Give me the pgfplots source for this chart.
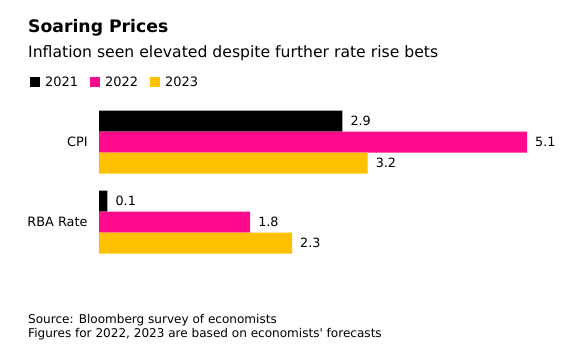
\documentclass[border=0pt]{standalone}
\usepackage{pgfplots}
\pgfplotsset{compat=1.18}
\usepackage{fontspec}
\setmainfont{DejaVu Sans}
\newfontfamily\nolig{DejaVu Sans}
\definecolor{c2021}{HTML}{000000}
\definecolor{c2022}{HTML}{FF0A8C}
\definecolor{c2023}{HTML}{FFC000}
\begin{document}
\begin{tikzpicture}
\path[use as bounding box] (0,0) rectangle (567bp,-354bp);
\node[anchor=base west, inner sep=0, font=\bfseries\fontsize{17.3}{20}\selectfont] at (28bp,-32bp) {Soaring Prices};
\node[anchor=base west, inner sep=0, font=\fontsize{15.7}{18}\selectfont] at (28bp,-57bp) {Inflation seen elevated despite further rate rise bets};
\node[anchor=base west, inner sep=0, font=\fontsize{12.1}{14}\selectfont] at (28bp,-323bp) {Source: Bloomberg survey of economists};
\node[anchor=base west, inner sep=0, font=\nolig\fontsize{12.1}{14}\selectfont] at (28bp,-337bp) {Figures for 2022, 2023 are based on economists' forecasts};
\begin{axis}[
  at={(99bp,-270bp)}, anchor=south west,
  scale only axis, width=428bp, height=176bp,
  xbar, bar width=21bp,
  xmin=0, xmax=5.1, ymin=-0.6, ymax=1.6,
  hide x axis,
  axis y line*=left, y axis line style={draw=none},
  ytick={0,1}, yticklabels={RBA Rate, CPI},
  ytick style={draw=none},
  yticklabel style={font=\fontsize{12.9}{15}\selectfont, inner sep=0pt, xshift=-7bp},
  nodes near coords,
  nodes near coords style={font=\fontsize{12.8}{15}\selectfont, anchor=west, inner sep=0pt, xshift=8bp,
    /pgf/number format/.cd, fixed, fixed zerofill, precision=1, assume math mode=true},
  legend image code/.code={\fill[#1,draw=none] (0bp,-5bp) rectangle (10bp,5bp);},
  legend columns=3,
  legend style={at={(rel axis cs:-0.1612,1.068)}, anchor=west, draw=none, fill=none, inner sep=0pt,
    nodes={inner sep=0pt},
    font=\fontsize{13}{15}\selectfont,
    /tikz/every odd column/.append style={column sep=5bp},
    /tikz/every even column/.append style={column sep=12bp}},
  legend cell align=left,
]
\addplot[fill=c2021, draw=none, bar shift=21bp] coordinates {(2.9,1) (0.1,0)};
\addplot[fill=c2022, draw=none, bar shift=0bp] coordinates {(5.1,1) (1.8,0)};
\addplot[fill=c2023, draw=none, bar shift=-21bp] coordinates {(3.2,1) (2.3,0)};
\legend{2021,2022,2023}
\end{axis}
\end{tikzpicture}
\end{document}
